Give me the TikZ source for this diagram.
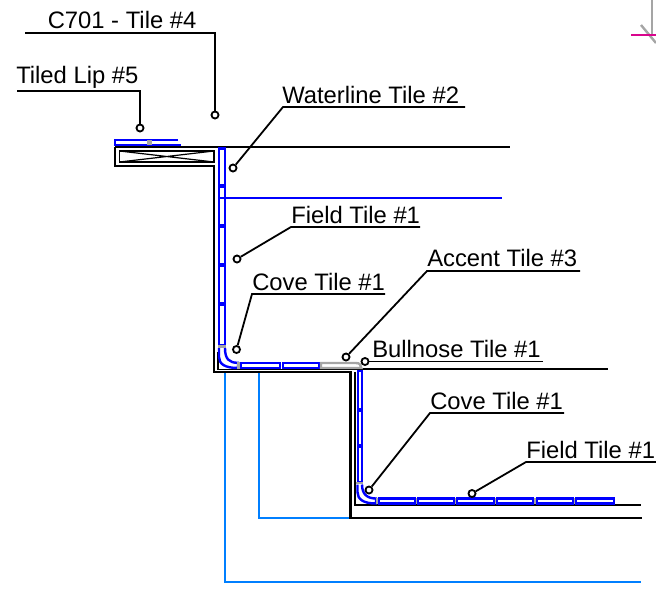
\documentclass[tikz,border=0pt]{standalone}
\usepackage{fontspec}
\setmainfont{Liberation Sans}
\definecolor{tileblue}{RGB}{0,0,255}
\definecolor{skyline}{RGB}{0,127,255}
\definecolor{jointgray}{RGB}{165,165,165}
\tikzset{
  wall/.style={draw=black,line width=1.6pt},
  wallthin/.style={draw=black,line width=1.1pt},
  tile/.style={draw=tileblue,line width=1.8pt},
  joint/.style={draw=jointgray,line width=1.8pt},
  sky/.style={draw=skyline,line width=1.3pt},
  leader/.style={draw=black,line width=1.35pt},
  dot/.style={circle,draw=black,fill=white,line width=1.35pt,minimum size=5.3pt,inner sep=0pt},
  lbl/.style={anchor=base west,inner sep=0pt,font=\fontsize{17.85}{20}\selectfont}
}
\begin{document}
\begin{tikzpicture}[x=0.75pt,y=-0.75pt]
\useasboundingbox (0,0) rectangle (656,589);
% top right fragment
\draw[draw=jointgray,line width=1.3pt] (652,0) -- (652,36);
\draw[draw=jointgray,line width=1.8pt] (641,25) -- (656,43);
\draw[draw=magenta!90!blue,line width=1.1pt] (631,35) -- (656,35);
% light blue
\draw[sky] (225,373) -- (225,582) -- (641,582);
\draw[sky] (259,373) -- (259,518) -- (350,518);
\draw[draw=tileblue,line width=1.2pt] (220,198) -- (502,198);
% walls
\draw[wall] (115,147) -- (510,147);
\draw[wall] (115,147) -- (115,166) -- (214,166) -- (214,372) -- (350.5,372) -- (350.5,518) -- (642,518);
\draw[wallthin] (218,352) -- (218,369.3) -- (360,369.3);
\draw[wall] (360,368.7) -- (608,368.7);
\draw[wall] (355,372) -- (355,505) -- (641,505);
\draw[wall,line width=1.4pt] (119.5,151) rectangle (214,162);
\draw[draw=black,line width=.9pt] (119.5,151) -- (214,162) (119.5,162) -- (214,151);
% lip
\draw[tile] (178,140) -- (115,140) -- (115,145) -- (181,145);
\draw[joint] (148,140) -- (148,145) (150.5,140) -- (150.5,145);
% vertical tiles, upper wall
\foreach \a/\b in {148.5/185,187/225,227/264,266/303,305/345}{
  \draw[tile] (219,\a) rectangle (225,\b);
}
\draw[joint] (218,346.5) -- (226,346.5);
% upper cove
\draw[tile] (219,348) -- (219,357) .. controls (219,364) and (225,368) .. (238,368) -- (238,362.8) .. controls (229,362.8) and (225,359) .. (225,348);
\draw[joint] (238.5,362) -- (238.5,369);
% floor tiles, upper
\foreach \a/\b in {241/280,283/319}{
  \draw[tile] (\a,363) rectangle (\b,368);
}
% bullnose accent
\draw[joint] (321,363) -- (356,363) .. controls (359.5,363) and (361.3,365) .. (361.3,368) -- (321,368) -- cycle;
% vertical tiles, lower wall
\foreach \a/\b in {371/409,411/445,447/482}{
  \draw[tile] (358,\a) rectangle (362,\b);
}
\draw[joint] (356,483) -- (363,483);
% lower cove
\draw[tile] (357.5,484.5) -- (357.5,492) .. controls (357.5,499) and (363,503.5) .. (376,503.5) -- (376,498.5) .. controls (367,498.5) and (362,494) .. (362,484.5);
\draw[joint] (377,498) -- (377,504) (416.5,498) -- (416.5,504) (455.5,498) -- (455.5,504) (495.5,498) -- (495.5,504) (535,498) -- (535,504) (574.5,498) -- (574.5,504);
\foreach \a/\b in {379/415,418/454,457/494,497/533,537/573,576/614}{
  \draw[tile] (\a,498.5) rectangle (\b,503.5);
}
% leaders
\node[lbl] (t1) at (47.5,28) {C701 - Tile \#4};
\coordinate (e1a) at (25,33); \coordinate (e1b) at (215,33);
\node[dot] (d1) at (215,115) {};
\draw[leader] (e1a) -- (e1b) -- (d1);
\node[lbl] (t2) at (16,83) {Tiled Lip \#5};
\coordinate (e2a) at (17,91); \coordinate (e2b) at (140,91);
\node[dot] (d2) at (140,128) {};
\draw[leader] (e2a) -- (e2b) -- (d2);
\node[lbl] (t3) at (282,103) {Waterline Tile \#2};
\coordinate (e3a) at (465,107); \coordinate (e3b) at (283,107);
\node[dot] (d3) at (233,168) {};
\draw[leader] (e3a) -- (e3b) -- (d3);
\node[lbl] (t4) at (291,223) {Field Tile \#1};
\coordinate (e4a) at (420,227); \coordinate (e4b) at (291,227);
\node[dot] (d4) at (237,259) {};
\draw[leader] (e4a) -- (e4b) -- (d4);
\node[lbl] (t5) at (252,290) {Cove Tile \#1};
\coordinate (e5a) at (385,294); \coordinate (e5b) at (252,294);
\node[dot] (d5) at (236.5,349.5) {};
\draw[leader] (e5a) -- (e5b) -- (d5);
\node[lbl] (t6) at (427,266) {Accent Tile \#3};
\coordinate (e6a) at (580,271); \coordinate (e6b) at (427,271);
\node[dot] (d6) at (346,357) {};
\draw[leader] (e6a) -- (e6b) -- (d6);
\node[lbl] (t7) at (372,357) {Bullnose Tile \#1};
\coordinate (e7a) at (543,361.5);
\node[dot] (d7) at (365,361.5) {};
\draw[leader] (e7a) -- (d7);
\node[lbl] (t8) at (430,409) {Cove Tile \#1};
\coordinate (e8a) at (564,413); \coordinate (e8b) at (430,413);
\node[dot] (d8) at (369,490) {};
\draw[leader] (e8a) -- (e8b) -- (d8);
\node[lbl] (t9) at (526,458) {Field Tile \#1};
\coordinate (e9a) at (656,462); \coordinate (e9b) at (526,462);
\node[dot] (d9) at (472,493.5) {};
\draw[leader] (e9a) -- (e9b) -- (d9);
\end{tikzpicture}
\end{document}
